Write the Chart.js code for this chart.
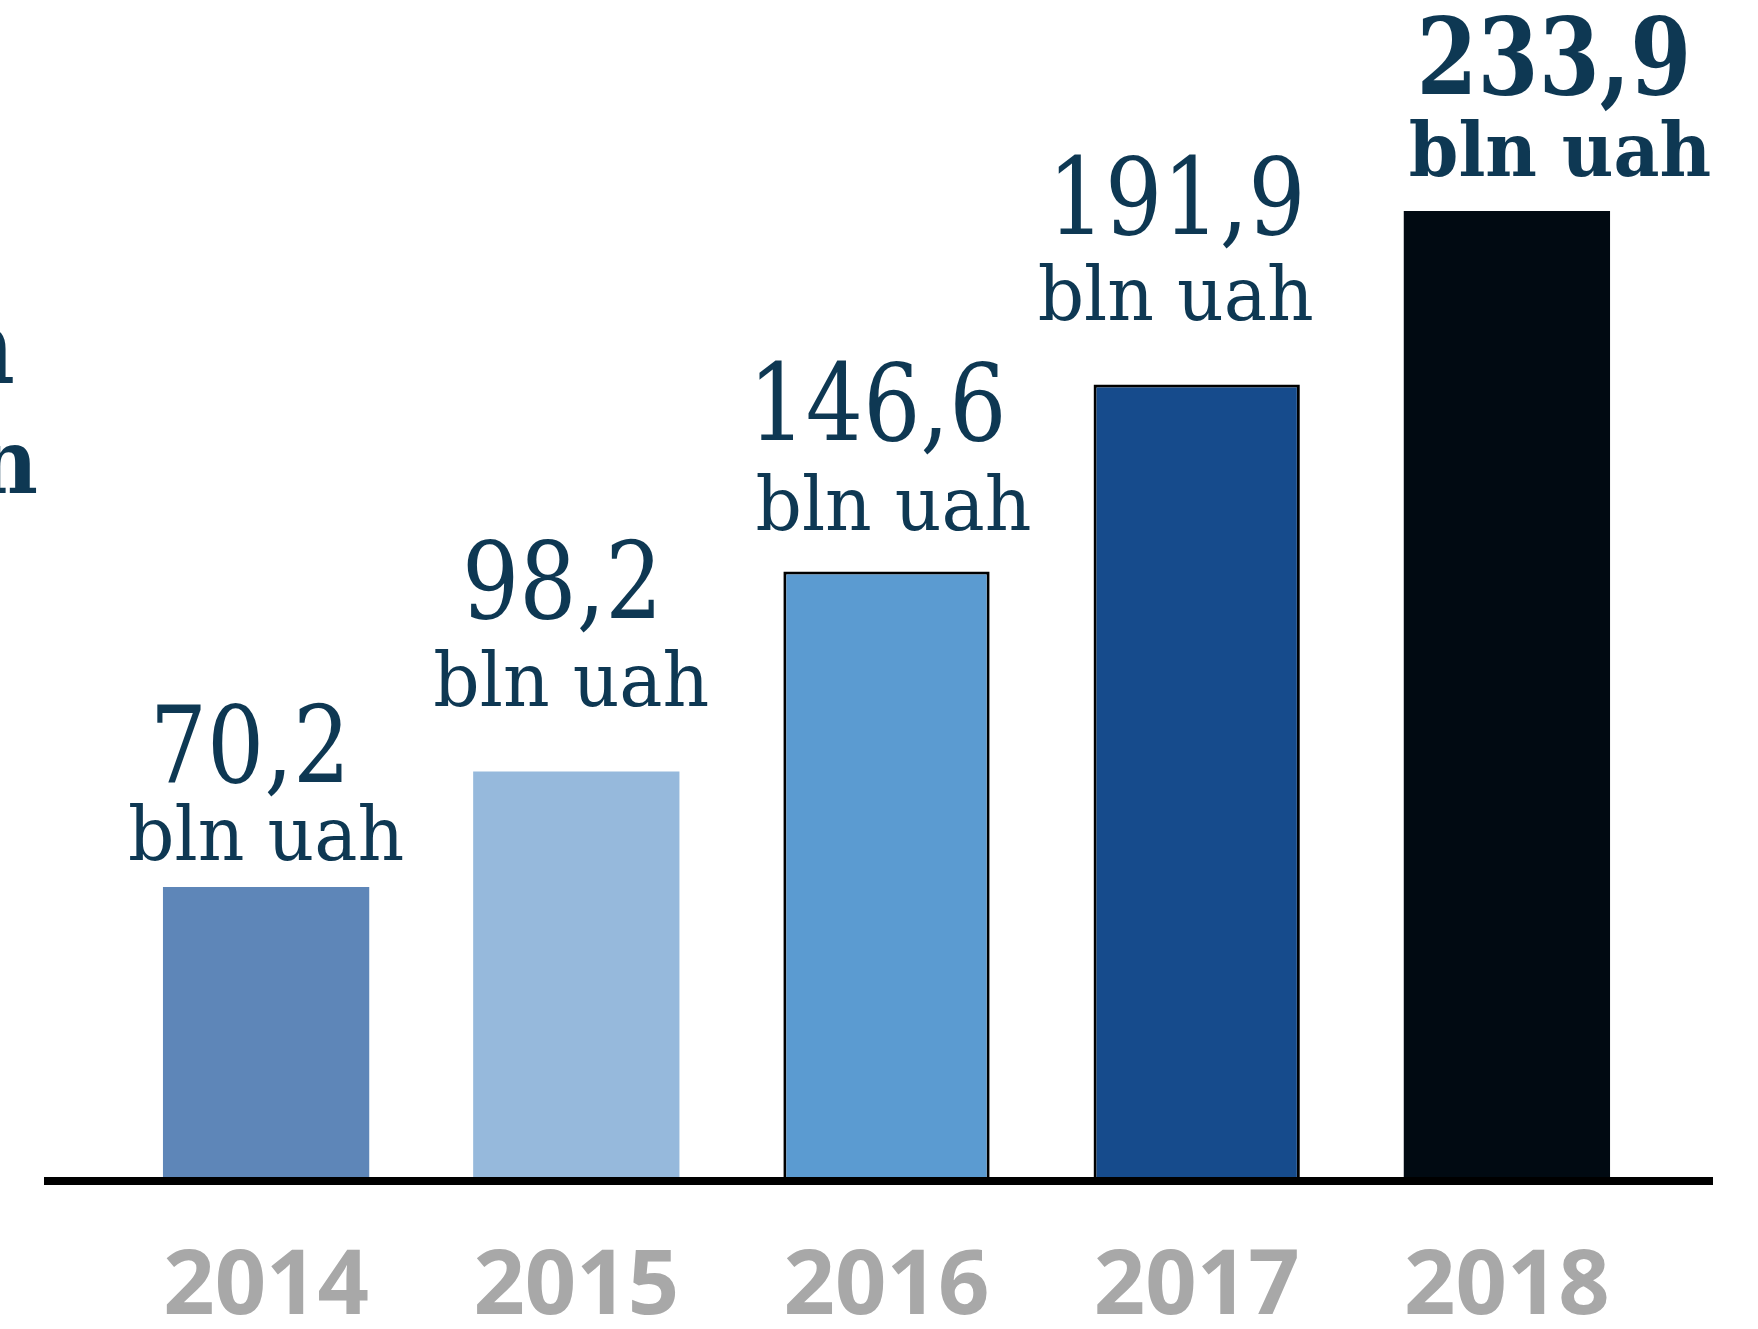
<!DOCTYPE html>
<html>
<head>
<meta charset="utf-8">
<script src="https://cdn.jsdelivr.net/npm/chart.js@4.4.0/dist/chart.umd.min.js"></script>
<style>
  html, body { margin: 0; padding: 0; background: #fff; }
  canvas { display: block; }
</style>
</head>
<body>
<canvas id="chart" width="1758" height="1329"></canvas>
<script>
const YEARS = ['2014', '2015', '2016', '2017', '2018'];
const VALUES = [70.2, 98.2, 146.6, 191.9, 233.9];
const UNIT = 'bln uah';
const BAR_COLORS = ['#5e86b8', '#96b9dc', '#5b9bd1', '#164b8c', '#010a12'];
const BAR_BORDERS = [0, 0, 3, 3, 0];

// label placement, tuned by eye against the source
const NUM_DX = [-16, -14, -9, -20, 47];
const UNIT_DX = [0, -5, 7, -21, 53];
const UNIT_GAP = [27, 65, 42, 64, 35];
const NUM_GAP = [78, 88, 90, 86, 82];

const TEXT_COLOR = '#0e3853';
const SERIF = "'DejaVu Serif', serif";

function drawScaled(ctx, text, x, y, font, sx, align) {
    ctx.save();
    ctx.font = font;
    ctx.fillStyle = TEXT_COLOR;
    ctx.textAlign = align || 'center';
    ctx.textBaseline = 'alphabetic';
    ctx.translate(x, y);
    ctx.scale(sx, 1);
    ctx.fillText(text, 0, 0);
    ctx.restore();
}

const valueLabels = {
    id: 'valueLabels',
    afterDatasetsDraw(chart) {
        const ctx = chart.ctx;
        const meta = chart.getDatasetMeta(0);
        meta.data.forEach((bar, i) => {
            const last = i === VALUES.length - 1;
            const num = VALUES[i].toFixed(1).replace('.', ',');
            const unitY = bar.y - UNIT_GAP[i];
            const numY = unitY - NUM_GAP[i];
            if (last) {
                drawScaled(ctx, num, bar.x + NUM_DX[i], numY, 'bold 107px ' + SERIF, 0.82);
                drawScaled(ctx, UNIT, bar.x + UNIT_DX[i], unitY, 'bold 74px ' + SERIF, 0.96);
            } else {
                drawScaled(ctx, num, bar.x + NUM_DX[i], numY, '106px ' + SERIF, 0.85);
                drawScaled(ctx, UNIT, bar.x + UNIT_DX[i], unitY, '74px ' + SERIF, 0.98);
            }
        });
    }
};

const baseLine = {
    id: 'baseLine',
    afterDatasetsDraw(chart) {
        const ctx = chart.ctx;
        const a = chart.chartArea;
        ctx.save();
        ctx.fillStyle = '#000';
        ctx.fillRect(a.left - 67, a.bottom, (a.right + 51) - (a.left - 67), 8);
        ctx.restore();
    }
};

// clipped text fragments at the left edge of the source
const edgeText = {
    id: 'edgeText',
    afterDraw(chart) {
        const ctx = chart.ctx;
        drawScaled(ctx, 'bln', 15, 383, 'bold 102px ' + SERIF, 0.95, 'right');
        drawScaled(ctx, 'bln', 38, 493, 'bold 89px ' + SERIF, 0.95, 'right');
    }
};

new Chart(document.getElementById('chart'), {
    type: 'bar',
    data: {
        labels: YEARS,
        datasets: [{
            data: VALUES,
            backgroundColor: BAR_COLORS,
            borderColor: '#000',
            borderWidth: BAR_BORDERS,
            borderSkipped: 'bottom',
            barPercentage: 0.665,
            categoryPercentage: 1.0,
        }],
    },
    options: {
        responsive: false,
        animation: false,
        layout: { padding: { left: 111, right: 96, top: 0, bottom: -71 } },
        plugins: { legend: { display: false }, tooltip: { enabled: false } },
        scales: {
            x: {
                grid: { display: false, drawTicks: false },
                border: { display: false },
                ticks: {
                    color: '#a8a8a8',
                    padding: 71,
                    font: { family: "'Open Sans', sans-serif", size: 90, weight: 'bold', lineHeight: 0.9 },
                },
            },
            y: {
                display: false,
                min: 0,
                max: 285,
            },
        },
    },
    plugins: [valueLabels, baseLine, edgeText],
});
</script>
</body>
</html>
